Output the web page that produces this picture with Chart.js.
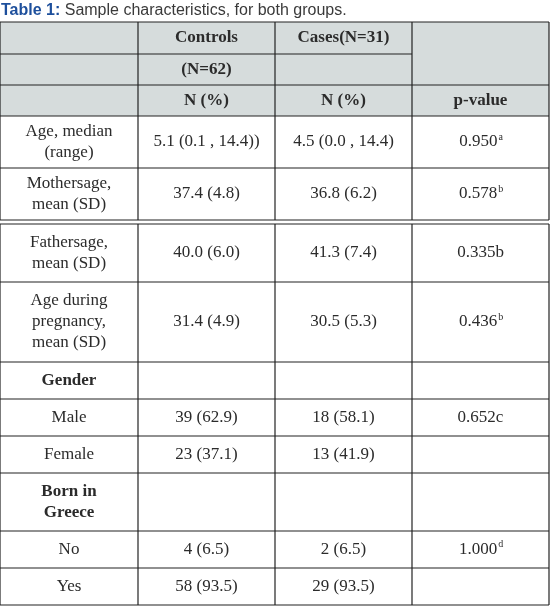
<!DOCTYPE html>
<html>
<head>
<meta charset="utf-8">
<script src="https://cdn.jsdelivr.net/npm/chart.js@4.4.0/dist/chart.umd.min.js"></script>
<style>
  body { margin: 0; background: #fff; }
  canvas { display: block; }
</style>
</head>
<body>
<canvas id="tbl" width="551" height="606"></canvas>
<script>
// table content
var categories = [["Age, median", "(range)"], ["Mothersage,", "mean (SD)"], ["Fathersage,", "mean (SD)"],
  ["Age during", "pregnancy,", "mean (SD)"], ["Gender"], ["Male"], ["Female"], ["Born in", "Greece"], ["No"], ["Yes"]];
var boldRows = [false, false, false, false, true, false, false, true, false, false];
var controls = ["5.1 (0.1 , 14.4))", "37.4 (4.8)", "40.0 (6.0)", "31.4 (4.9)", "", "39 (62.9)", "23 (37.1)", "", "4 (6.5)", "58 (93.5)"];
var cases = ["4.5 (0.0 , 14.4)", "36.8 (6.2)", "41.3 (7.4)", "30.5 (5.3)", "", "18 (58.1)", "13 (41.9)", "", "2 (6.5)", "29 (93.5)"];
var pValues = ["0.950^a", "0.578^b", "0.335b", "0.436^b", "", "0.652c", "", "", "1.000^d", ""];
var headerTop = ["", "Controls", "Cases(N=31)", ""];
var headerMid = ["", "(N=62)", "", ""];
var headerBottom = ["", "N (%)", "N (%)", "p-value"];

// layout (pixels in the chart's value space)
var colEdges = [0, 138, 275, 412, 549];
var headEdges = [22, 54, 85, 116];
var rowEdges = [116, 168, 220, 224, 282, 362, 399, 436, 473, 531, 568, 605];
var SERIF = "'Liberation Serif', 'DejaVu Serif', serif";
var FS = 17;

function drawText(ctx, txt, x, y, bold) {
  ctx.font = (bold ? "bold " : "") + FS + "px " + SERIF;
  var parts = txt.split("^");
  if (parts.length === 1) { ctx.textAlign = "center"; ctx.fillText(txt, x, y); return; }
  var w = ctx.measureText(parts[0]).width;
  ctx.font = "10px " + SERIF;
  var ws = ctx.measureText(parts[1]).width;
  var x0 = x - (w + ws) / 2;
  ctx.textAlign = "left";
  ctx.font = (bold ? "bold " : "") + FS + "px " + SERIF;
  ctx.fillText(parts[0], x0, y);
  ctx.font = "10px " + SERIF;
  ctx.fillText(parts[1], x0 + w + 1, y - 5);
}

var tablePlugin = {
  id: "tablePlugin",
  afterDraw: function (chart) {
    var ctx = chart.ctx, xs = chart.scales.x, ys = chart.scales.y;
    var X = function (v) { return xs.getPixelForValue(v); };
    var Y = function (v) { return ys.getPixelForValue(v); };
    ctx.save();
    // title
    ctx.textBaseline = "alphabetic";
    ctx.textAlign = "left";
    ctx.font = "bold 16px 'Liberation Sans', Arial, sans-serif";
    ctx.fillStyle = "#1d4f9c";
    ctx.fillText("Table 1:", X(1), Y(15));
    var tw = ctx.measureText("Table 1: ").width;
    ctx.font = "16px 'Liberation Sans', Arial, sans-serif";
    ctx.fillStyle = "#3a3a3a";
    ctx.fillText("Sample characteristics, for both groups.", X(1) + tw, Y(15));

    // header background
    ctx.fillStyle = "#d6dcdc";
    ctx.fillRect(X(colEdges[0]), Y(headEdges[0]), X(colEdges[4]) - X(colEdges[0]), Y(headEdges[3]) - Y(headEdges[0]));

    // lines
    ctx.strokeStyle = "#222";
    ctx.lineWidth = 1.2;
    function h(y, x1, x2) { ctx.beginPath(); ctx.moveTo(X(x1), Y(y)); ctx.lineTo(X(x2), Y(y)); ctx.stroke(); }
    function v(x, y1, y2) { ctx.beginPath(); ctx.moveTo(X(x), Y(y1)); ctx.lineTo(X(x), Y(y2)); ctx.stroke(); }
    h(headEdges[0], 0, 549);
    h(headEdges[1], 0, 412);
    h(headEdges[2], 0, 549);
    rowEdges.forEach(function (y) { h(y, 0, 549); });
    colEdges.forEach(function (x) {
      v(x, headEdges[0], rowEdges[2]);
      v(x, rowEdges[3], rowEdges[rowEdges.length - 1]);
    });

    // header text
    ctx.fillStyle = "#2b2b2b";
    ctx.textBaseline = "middle";
    [headerTop, headerMid, headerBottom].forEach(function (row, r) {
      row.forEach(function (txt, c) {
        if (!txt) return;
        drawText(ctx, txt, X((colEdges[c] + colEdges[c + 1]) / 2), Y((headEdges[r] + headEdges[r + 1]) / 2), true);
      });
    });

    // body rows (skip the spacer between rows 2 and 3)
    var bands = [[116, 168], [168, 220], [224, 282], [282, 362], [362, 399], [399, 436], [436, 473], [473, 531], [531, 568], [568, 605]];
    categories.forEach(function (lines, i) {
      var cy = (bands[i][0] + bands[i][1]) / 2;
      var lh = 21;
      lines.forEach(function (ln, k) {
        drawText(ctx, ln, X((colEdges[0] + colEdges[1]) / 2), Y(cy + (k - (lines.length - 1) / 2) * lh), boldRows[i]);
      });
      [controls[i], cases[i], pValues[i]].forEach(function (txt, c) {
        if (txt) drawText(ctx, txt, X((colEdges[c + 1] + colEdges[c + 2]) / 2), Y(cy), false);
      });
    });
    ctx.restore();
  }
};

new Chart(document.getElementById("tbl"), {
  type: "scatter",
  data: { datasets: [{ data: [], pointRadius: 0 }] },
  options: {
    responsive: false,
    animation: false,
    layout: { padding: 0 },
    plugins: { legend: { display: false }, tooltip: { enabled: false } },
    scales: {
      x: { type: "linear", min: 0, max: 551, display: false },
      y: { type: "linear", min: 0, max: 606, reverse: true, display: false }
    }
  },
  plugins: [tablePlugin]
});
</script>
</body>
</html>
